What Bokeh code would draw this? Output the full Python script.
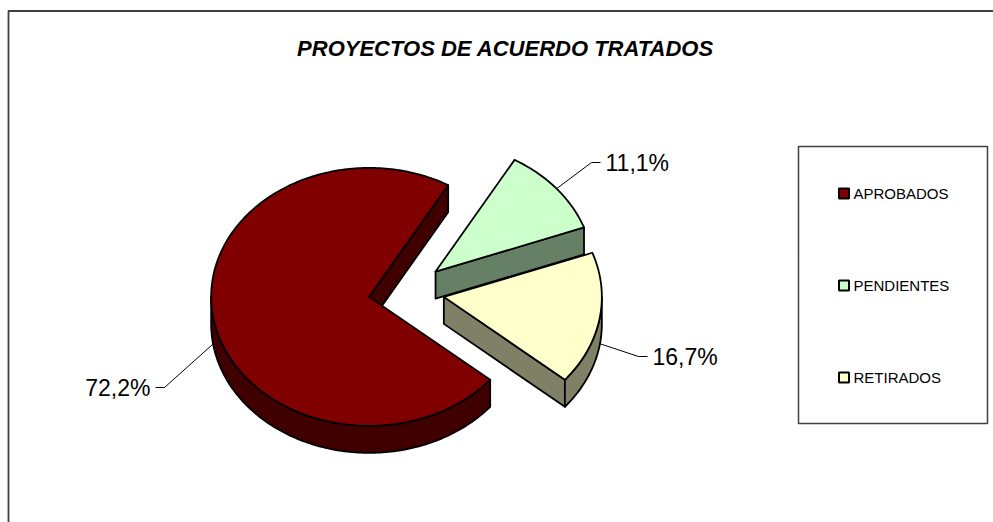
import math
from bokeh.plotting import figure
from bokeh.models import Range1d
from bokeh.embed import file_html
from bokeh.resources import INLINE
from bokeh.core.properties import value

# ---------------- data ----------------
chart_title = "PROYECTOS DE ACUERDO TRATADOS"
categories = ["APROBADOS", "PENDIENTES", "RETIRADOS"]
counts = [13, 2, 3]                      # 72,2% / 11,1% / 16,7%
top_colors = ["#800000", "#CCFFCC", "#FFFFCC"]
side_colors = ["#400000", "#668066", "#808066"]

# ---------------- layout ----------------
W, H = 993, 522
FONT = "Liberation Sans"
cx, cy = 406.0, 291.0      # pie centre (page px)
rx, ry = 158.0, 129.0      # ellipse radii
explode = 0.24             # explosion as fraction of radius
depth = 27.0               # thickness of the 3D pie
start_deg = -40.0          # first slice starts here, going clockwise
label_pos = [(150, 387, "right"), (605, 162, "left"), (652, 356, "left")]

p = figure(width=W, height=H, x_range=Range1d(0, W), y_range=Range1d(H, 0),
           output_backend="svg", toolbar_location=None, min_border=0,
           x_axis_location=None, y_axis_location=None, outline_line_color=None)
p.grid.visible = False
p.background_fill_color = "white"
p.border_fill_color = "white"

# outer chart-area border (left and top visible; rest runs off the page)
p.line([8, 8, W + 5], [H + 5, 10.5, 10.5], line_color="#404040", line_width=1.8)

# title
p.text(x=[505], y=[48], text=[chart_title], text_font=value(FONT), text_font_size="22px",
       text_font_style="bold italic", text_align="center", text_baseline="middle",
       text_color="black")

total = float(sum(counts))
fracs = [c / total for c in counts]


def pt(ax, ay, deg, dy=0.0):
    t = math.radians(deg)
    return ax + rx * math.cos(t), ay - ry * math.sin(t) + dy


def arc(ax, ay, d1, d2, dy=0.0, step=1.0):
    n = max(2, int(abs(d2 - d1) / step) + 1)
    xs, ys = [], []
    for k in range(n):
        d = d1 + (d2 - d1) * k / (n - 1)
        x, y = pt(ax, ay, d, dy)
        xs.append(x)
        ys.append(y)
    return xs, ys


slices = []
cum = 0.0
for i, f in enumerate(fracs):
    a2 = start_deg - cum * 360.0
    a1 = start_deg - (cum + f) * 360.0
    cum += f
    mid = (a1 + a2) / 2.0
    m = math.radians(mid)
    ax = cx + explode * rx * math.cos(m)
    ay = cy - explode * ry * math.sin(m)
    slices.append(dict(i=i, a1=a1, a2=a2, mid=mid, ax=ax, ay=ay))

# back-to-front drawing order
order = sorted(slices, key=lambda s: -math.sin(math.radians(s["mid"])))

OUT = dict(line_color="black", line_width=1.8, line_join="round")

for s in order:
    i, a1, a2, ax, ay = s["i"], s["a1"], s["a2"], s["ax"], s["ay"]
    # radial face at a1 (clockwise edge)
    if math.cos(math.radians(a1)) > 0:
        ex, ey = pt(ax, ay, a1)
        p.patch([ax, ex, ex, ax], [ay, ey, ey + depth, ay + depth],
                fill_color=side_colors[i], **OUT)
    # radial face at a2
    if math.cos(math.radians(a2)) < 0:
        ex, ey = pt(ax, ay, a2)
        p.patch([ax, ex, ex, ax], [ay, ey, ey + depth, ay + depth],
                fill_color=side_colors[i], **OUT)
    # outer curved wall on the front half
    for k in range(-3, 3):
        lo, hi = -180.0 + 360.0 * k, 360.0 * k
        b1, b2 = max(lo, a1), min(hi, a2)
        if b2 > b1:
            tx, ty = arc(ax, ay, b1, b2)
            bx, by = arc(ax, ay, b1, b2, dy=depth)
            p.patch(tx + bx[::-1], ty + by[::-1], fill_color=side_colors[i], **OUT)
    # top face
    tx, ty = arc(ax, ay, a1, a2)
    p.patch([ax] + tx, [ay] + ty, fill_color=top_colors[i], **OUT)

# data labels with leader lines
for s in slices:
    i = s["i"]
    mx, my = pt(s["ax"], s["ay"], s["mid"])
    if math.sin(math.radians(s["mid"])) < 0:
        my += depth * 0.9
    lx, ly, align = label_pos[i]
    sgn = 1 if align == "right" else -1
    elbow_x = lx + sgn * 14
    end_x = lx + sgn * 5
    p.line([mx, elbow_x, end_x], [my, ly, ly], line_color="black", line_width=1)
    pct = ("%.1f" % (100.0 * counts[i] / total)).replace(".", ",") + "%"
    p.text(x=[lx], y=[ly], text=[pct], text_font=value(FONT), text_font_size="23px",
           text_align=align, text_baseline="middle", text_color="black")

# legend
p.quad(left=[798], right=[987], top=[146], bottom=[423], fill_color="white",
       line_color="#404040", line_width=1.5)
leg_y = [193, 285, 377]
p.scatter(x=[843.5] * 3, y=leg_y, marker="square", size=10, fill_color=top_colors,
          line_color="black", line_width=2)
p.text(x=[853] * 3, y=leg_y, text=categories, text_font=value(FONT), text_font_size="15px",
       text_align="left", text_baseline="middle", text_color="black")

open("out.html", "w").write(file_html(p, INLINE))
